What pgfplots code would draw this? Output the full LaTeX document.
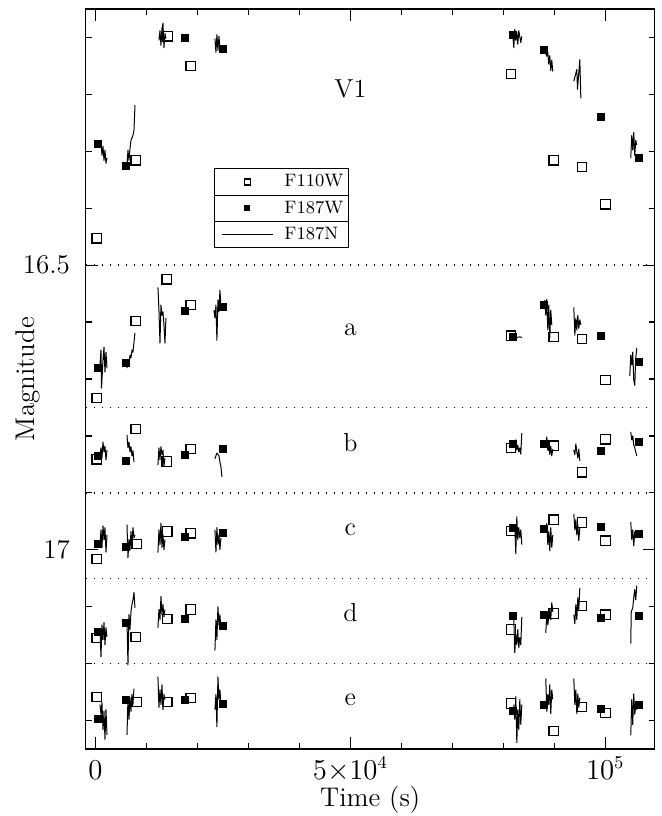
\documentclass[border=0pt]{standalone}
\usepackage{pgfplots}
\pgfplotsset{compat=1.18}
\usetikzlibrary{calc}
\pgfplotsset{
  legsqA/.style={legend image code/.code={\path[draw=none,fill=none] (0pt,-1pt) rectangle (25.5pt,1pt); \draw[##1,mark size=1.5pt] plot coordinates {(12.75pt,0pt)};}},
  legsqB/.style={legend image code/.code={\path[draw=none,fill=none] (0pt,-1pt) rectangle (25.5pt,1pt); \draw[##1,mark size=1.25pt] plot coordinates {(12.75pt,0pt)};}},
  legln/.style={legend image code/.code={\draw[##1] (0pt,0pt) -- (25.5pt,0pt);}},
}
\begin{document}
\begin{tikzpicture}
\begin{axis}[
  scale only axis, width=284.5pt, height=370pt,
  xmin=-1920, xmax=109700, ymin=16.05, ymax=17.35, y dir=reverse,
  unbounded coords=jump,
  axis line style={line width=0.6pt},
  tick align=inside, major tick length=6pt, minor tick length=3pt,
  every tick/.style={black, line width=0.6pt},
  xtick={0,50000,100000}, xticklabels={$0$,$5{\times}10^4$,$10^5$},
  minor xtick={10000,20000,30000,40000,60000,70000,80000,90000},
  ytick={16.5,17}, yticklabels={16.5,17},
  minor ytick={16.1,16.2,16.3,16.4,16.6,16.7,16.8,16.9,17.1,17.2,17.3},
  scaled x ticks=false,
  tick label style={font=\fontsize{13.5}{16}\selectfont},
  xticklabel style={anchor=base, yshift=-15pt},
  yticklabel style={xshift=-4.4pt},
  xlabel={Time (s)}, ylabel={Magnitude},
  label style={font=\fontsize{13.5}{16}\selectfont, inner sep=0pt},
  xlabel style={at={(axis description cs:0.5,-0.0689)}, anchor=center},
  ylabel style={at={(axis description cs:-0.1014,0.5)}, anchor=center},
  legend style={name=leg, at={(axis cs:23235,16.330)}, anchor=north west,
    draw=black, line width=0.5pt, fill=white, inner xsep=3.5pt, inner ysep=0pt, row sep=0pt, column sep=0pt,
    /tikz/every odd column/.style={column sep=5.5pt},
    font=\fontsize{9}{11}\selectfont,
    nodes={inner sep=0pt, minimum height=13.17pt, text width=28.5pt, align=left}},
  legend cell align=left,
]
% separators between panels
\addplot[forget plot, black, line width=0.7pt, dash pattern=on 0.7pt off 3.3pt] coordinates {
(-1920,16.5) (109700,16.5) (nan,nan)
(-1920,16.75) (109700,16.75) (nan,nan)
(-1920,16.9) (109700,16.9) (nan,nan)
(-1920,17.05) (109700,17.05) (nan,nan)
(-1920,17.2) (109700,17.2)
};
% F110W
\addplot[only marks, mark=square, mark size=2.33pt, black, mark options={line width=0.6pt}, legsqA] coordinates {
(235,16.453) (7880,16.316) (14160,16.098) (18670,16.150) (81540,16.164) (89870,16.316) (95400,16.328) (100050,16.393)
(235,16.733) (7880,16.598) (13960,16.525) (18670,16.570) (81540,16.624) (89870,16.626) (95400,16.630) (100050,16.702)
(235,16.841) (7880,16.788) (13960,16.845) (18670,16.823) (81540,16.821) (89870,16.817) (95400,16.864) (100050,16.806)
(235,17.016) (8080,16.990) (14080,16.968) (18670,16.971) (81540,16.967) (89870,16.947) (95400,16.952) (100050,16.984)
(235,17.155) (7880,17.153) (14080,17.122) (18670,17.105) (81540,17.140) (89870,17.112) (95400,17.099) (100050,17.114)
(235,17.259) (8080,17.267) (14080,17.267) (18670,17.260) (81540,17.270) (89870,17.318) (95400,17.276) (100050,17.287)
};
\addlegendentry{F110W}
% F187W
\addplot[only marks, mark=square*, mark size=1.75pt, black, legsqB] coordinates {
(550,16.287) (5980,16.326) (17610,16.100) (24940,16.120) (81810,16.096) (87950,16.121) (99070,16.240) (106520,16.312)
(550,16.680) (5980,16.671) (17610,16.581) (24940,16.574) (81810,16.626) (87890,16.569) (99070,16.625) (106520,16.670)
(550,16.835) (5980,16.843) (17610,16.833) (24940,16.823) (81810,16.814) (87890,16.814) (99070,16.827) (106520,16.811)
(550,16.989) (5980,16.995) (17610,16.977) (24940,16.971) (81810,16.962) (87890,16.964) (99070,16.959) (106520,16.972)
(550,17.145) (5980,17.129) (17610,17.121) (24940,17.134) (81810,17.117) (87890,17.114) (99070,17.120) (106520,17.116)
(550,17.297) (5980,17.264) (17610,17.264) (24940,17.270) (81810,17.283) (87890,17.273) (99070,17.280) (106520,17.273)
};
\addlegendentry{F187W}
% F187N V1
\addplot[black, line width=0.5pt, line join=round, legln] coordinates {
(1080,16.284)(1270,16.307)(1470,16.291)(1670,16.316)(1860,16.298)(2060,16.321)(2260,16.312) (nan,nan)
(6180,16.326)(6370,16.298)(6570,16.316)(6770,16.295)(6960,16.281)(7350,16.272)(7550,16.263)(7750,16.219) (nan,nan)
(12450,16.105)(12650,16.088)(12840,16.114)(13040,16.084)(13240,16.075)(13430,16.118)(13630,16.093)(13820,16.102) (nan,nan)
(23430,16.102)(23630,16.126)(23820,16.095)(24020,16.123)(24220,16.098)(24410,16.119)(24610,16.116) (nan,nan)
(81860,16.096)(82060,16.118)(82250,16.086)(82450,16.105)(82650,16.091)(82840,16.112)(83040,16.088)(83430,16.109)(83630,16.098) (nan,nan)
(88140,16.123)(88530,16.133)(88730,16.126)(88920,16.147)(89120,16.132)(89310,16.158)(89510,16.140)(89710,16.160) (nan,nan)
(93830,16.177)(94420,16.156)(94550,16.191)(94780,16.165)(95010,16.139)(95210,16.207) (nan,nan)
(105000,16.312)(105200,16.272)(105390,16.298)(105590,16.267)(105790,16.307)(105980,16.281)(106180,16.289)
};
\addlegendentry{F187N}
% F187N a
\addplot[forget plot, black, line width=0.5pt, line join=round] coordinates {
(880,16.675)(1080,16.649)(1180,16.716)(1470,16.667)(1670,16.644)(1860,16.688)(2060,16.653)(2260,16.681) (nan,nan)
(6180,16.681)(6370,16.667)(6570,16.675)(6770,16.658)(6960,16.663)(7160,16.649)(7350,16.653)(7750,16.619) (nan,nan)
(12250,16.539)(12450,16.579)(12650,16.637)(12840,16.570)(13040,16.588)(13240,16.582)(13430,16.605)(13630,16.637)(13820,16.593) (nan,nan)
(23240,16.579)(23430,16.593)(23630,16.570)(23820,16.632)(24020,16.561)(24220,16.582)(24410,16.544)(24610,16.572) (nan,nan)
(82060,16.626)(82650,16.627)(83240,16.626)(83630,16.627) (nan,nan)
(88140,16.561)(88330,16.588)(88530,16.560)(88730,16.614)(88920,16.570)(89120,16.628)(89310,16.579)(89510,16.605) (nan,nan)
(93830,16.574)(94030,16.623)(94230,16.593)(94420,16.614)(94620,16.588)(94810,16.611)(95010,16.596)(95210,16.605) (nan,nan)
(104810,16.695)(105000,16.658)(105200,16.675)(105390,16.653)(105590,16.702)(105790,16.711)(105980,16.663)(106180,16.646)
};
% F187N b
\addplot[forget plot, black, line width=0.5pt, line join=round] coordinates {
(880,16.833)(1080,16.821)(1270,16.839)(1470,16.811)(1670,16.828)(1860,16.818)(2060,16.842)(2260,16.825) (nan,nan)
(6180,16.798)(6370,16.821)(6570,16.811)(6770,16.828)(6960,16.819)(7160,16.835)(7350,16.826)(7550,16.846) (nan,nan)
(12250,16.851)(12450,16.821)(12650,16.842)(12840,16.819)(13040,16.833)(13240,16.825)(13430,16.854)(13630,16.839) (nan,nan)
(23430,16.840)(23820,16.830)(24220,16.835)(24410,16.846)(24610,16.854)(24800,16.872) (nan,nan)
(82060,16.818)(82450,16.807)(82650,16.825)(82840,16.816)(83040,16.828)(83240,16.821)(83430,16.832)(83630,16.795) (nan,nan)
(88330,16.816)(88530,16.802)(88730,16.825)(88920,16.811)(89120,16.833)(89310,16.818)(89510,16.835)(89710,16.823) (nan,nan)
(93830,16.825)(94030,16.833)(94230,16.814)(94420,16.828)(94620,16.839)(94810,16.823)(95010,16.844) (nan,nan)
(105000,16.793)(105200,16.807)(105390,16.800)(105590,16.816)(105790,16.821)(105980,16.828)(106180,16.835)
};
% F187N c
\addplot[forget plot, black, line width=0.5pt, line join=round] coordinates {
(880,16.991)(1080,16.965)(1270,16.996)(1470,16.958)(1670,16.982)(1860,16.961)(2060,17.004)(2260,16.974) (nan,nan)
(6180,16.956)(6370,17.014)(6570,16.982)(6770,17.000)(6960,16.968)(7160,16.991)(7350,16.961)(7550,16.979)(7750,16.974) (nan,nan)
(12250,17.005)(12450,16.965)(12650,16.991)(12840,16.953)(13040,16.996)(13240,16.974)(13430,17.000)(13630,16.982) (nan,nan)
(23430,16.965)(23630,17.004)(23820,16.961)(24020,16.991)(24220,16.974)(24410,17.000)(24610,16.979) (nan,nan)
(82060,16.965)(82250,16.956)(82450,17.007)(82650,16.942)(82840,16.982)(83040,16.961)(83240,16.979)(83430,16.965)(83630,16.991) (nan,nan)
(88330,16.965)(88530,16.954)(88730,16.991)(88920,16.968)(89120,17.002)(89310,16.961)(89510,16.996)(89710,16.974) (nan,nan)
(93830,16.937)(94030,16.965)(94230,16.947)(94420,16.974)(94620,16.956)(94810,16.984)(95010,16.961) (nan,nan)
(105000,16.951)(105200,16.982)(105390,16.965)(105590,16.993)(105790,16.968)(105980,16.979)(106180,16.972)
};
% F187N d
\addplot[forget plot, black, line width=0.5pt, line join=round] coordinates {
(880,17.140)(1080,17.188)(1270,17.132)(1470,17.158)(1670,17.128)(1860,17.167)(2060,17.137)(2260,17.153) (nan,nan)
(6180,17.123)(6370,17.202)(6570,17.114)(6770,17.140)(6960,17.109)(7160,17.096)(7350,17.088)(7550,17.075)(7750,17.102) (nan,nan)
(12250,17.137)(12450,17.105)(12650,17.123)(12840,17.082)(13040,17.114)(13240,17.096)(13430,17.118)(13630,17.105) (nan,nan)
(23430,17.177)(23630,17.123)(23820,17.158)(24020,17.100)(24220,17.132)(24410,17.114)(24610,17.140) (nan,nan)
(82060,17.123)(82250,17.181)(82450,17.149)(82650,17.167)(82840,17.140)(83040,17.172)(83240,17.154)(83430,17.167)(83630,17.118) (nan,nan)
(88330,17.146)(88530,17.114)(88730,17.132)(88920,17.118)(89120,17.105)(89310,17.123)(89510,17.093)(89710,17.109) (nan,nan)
(93830,17.114)(94030,17.130)(94230,17.096)(94420,17.123)(94620,17.084)(94810,17.105)(95010,17.067) (nan,nan)
(105000,17.165)(105100,17.109)(105390,17.102)(105590,17.084)(105790,17.070)(105980,17.088)(106180,17.063)
};
% F187N e
\addplot[forget plot, black, line width=0.5pt, line join=round] coordinates {
(880,17.272)(1080,17.289)(1270,17.268)(1470,17.316)(1670,17.284)(1860,17.333)(2060,17.281)(2260,17.325) (nan,nan)
(6180,17.325)(6370,17.263)(6570,17.298)(6770,17.260)(6960,17.284)(7160,17.254)(7350,17.272)(7550,17.244) (nan,nan)
(12250,17.223)(12450,17.277)(12650,17.246)(12840,17.272)(13040,17.237)(13240,17.281)(13430,17.254)(13630,17.263) (nan,nan)
(23430,17.281)(23630,17.254)(23820,17.311)(24020,17.223)(24220,17.263)(24410,17.246)(24610,17.272) (nan,nan)
(82060,17.272)(82250,17.298)(82450,17.258)(82650,17.339)(82840,17.281)(83040,17.316)(83240,17.263)(83430,17.307)(83630,17.272) (nan,nan)
(88330,17.226)(88530,17.284)(88730,17.254)(88920,17.272)(89120,17.237)(89310,17.288)(89510,17.246)(89710,17.263) (nan,nan)
(93830,17.226)(94030,17.272)(94230,17.246)(94420,17.288)(94620,17.253)(94810,17.277)(95010,17.260) (nan,nan)
(105000,17.326)(105200,17.263)(105390,17.307)(105590,17.253)(105790,17.289)(105980,17.272)(106180,17.281)
};
\node[font=\fontsize{13}{15}\selectfont] at (axis cs:50000,16.19) {V1};
\node[font=\fontsize{13}{15}\selectfont] at (axis cs:50000,16.614) {a};
\node[font=\fontsize{13}{15}\selectfont] at (axis cs:50000,16.812) {b};
\node[font=\fontsize{13}{15}\selectfont] at (axis cs:50000,16.965) {c};
\node[font=\fontsize{13}{15}\selectfont] at (axis cs:50000,17.11) {d};
\node[font=\fontsize{13}{15}\selectfont] at (axis cs:50000,17.263) {e};
\end{axis}
\draw[line width=0.5pt] ($(leg.north west)!1/3!(leg.south west)$) -- ($(leg.north east)!1/3!(leg.south east)$);
\draw[line width=0.5pt] ($(leg.north west)!2/3!(leg.south west)$) -- ($(leg.north east)!2/3!(leg.south east)$);
\path ([xshift=-42.85pt,yshift=-33.5pt]current axis.south west) rectangle ([xshift=3.5pt,yshift=4.5pt]current axis.north east);
\end{tikzpicture}
\end{document}
